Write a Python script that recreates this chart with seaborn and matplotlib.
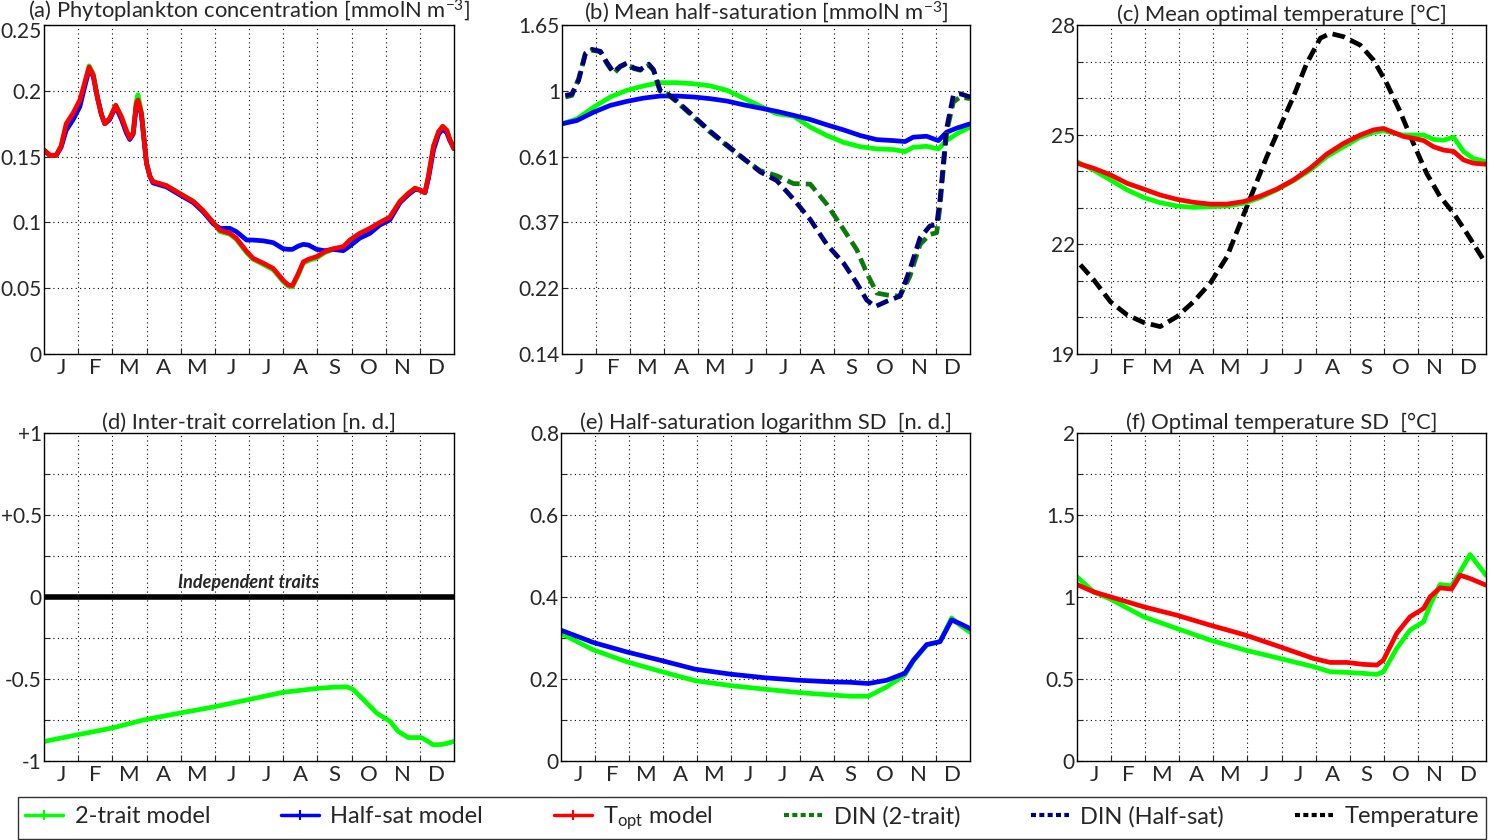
import numpy as np
import pandas as pd
import seaborn as sns
import matplotlib
matplotlib.use("Agg")
import matplotlib.pyplot as plt
from matplotlib.lines import Line2D
from matplotlib.transforms import ScaledTranslation

# ---------------- data (x in months since Jan 1) ----------------
months = ["J", "F", "M", "A", "M", "J", "J", "A", "S", "O", "N", "D"]

# (a) phytoplankton concentration
a_x = [0, 0.17, 0.36, 0.5, 0.65, 0.85, 1.05, 1.19, 1.32, 1.44, 1.57, 1.68, 1.78, 1.92, 2.1, 2.27,
       2.41, 2.51, 2.61, 2.7, 2.75, 2.85, 2.92, 3.0, 3.1, 3.19, 3.58, 3.97, 4.37, 4.66, 4.95, 5.15,
       5.44, 5.63, 5.93, 6.12, 6.42, 6.71, 7.0, 7.15, 7.27, 7.44, 7.59, 7.74, 7.98, 8.22, 8.46, 8.76,
       8.95, 9.24, 9.54, 9.83, 10.12, 10.42, 10.66, 10.86, 11.0, 11.15, 11.25, 11.4, 11.55, 11.67,
       11.79, 11.88, 12.0]
a_red = [0.155, 0.151, 0.151, 0.158, 0.175, 0.183, 0.193, 0.206, 0.218, 0.212, 0.194, 0.182, 0.175,
         0.179, 0.189, 0.180, 0.170, 0.164, 0.168, 0.190, 0.193, 0.183, 0.165, 0.145, 0.135, 0.131,
         0.128, 0.122, 0.116, 0.109, 0.100, 0.094, 0.0917, 0.088, 0.078, 0.0727, 0.069, 0.065, 0.056,
         0.0524, 0.052, 0.061, 0.070, 0.072, 0.074, 0.0778, 0.080, 0.0816, 0.0866, 0.0917, 0.0955,
         0.100, 0.104, 0.116, 0.122, 0.126, 0.1246, 0.1226, 0.135, 0.158, 0.169, 0.173, 0.170, 0.163,
         0.156]
a_blue = [0.155, 0.151, 0.151, 0.157, 0.170, 0.178, 0.188, 0.203, 0.216, 0.211, 0.194, 0.182, 0.175,
          0.178, 0.188, 0.178, 0.168, 0.163, 0.167, 0.188, 0.191, 0.182, 0.165, 0.145, 0.135, 0.130,
          0.127, 0.121, 0.115, 0.108, 0.099, 0.0955, 0.0955, 0.093, 0.0866, 0.0866, 0.086, 0.0846,
          0.080, 0.0795, 0.0795, 0.082, 0.0833, 0.0828, 0.0795, 0.0785, 0.0795, 0.0785, 0.082, 0.088,
          0.0917, 0.098, 0.1018, 0.115, 0.121, 0.125, 0.1246, 0.1226, 0.133, 0.155, 0.167, 0.171,
          0.168, 0.162, 0.156]
a_green = [0.155, 0.151, 0.151, 0.158, 0.173, 0.181, 0.191, 0.205, 0.219, 0.213, 0.195, 0.182, 0.175,
           0.179, 0.189, 0.180, 0.170, 0.164, 0.168, 0.192, 0.197, 0.184, 0.165, 0.145, 0.135, 0.131,
           0.128, 0.122, 0.116, 0.108, 0.100, 0.093, 0.091, 0.087, 0.077, 0.072, 0.068, 0.064, 0.055,
           0.0515, 0.051, 0.060, 0.069, 0.071, 0.073, 0.077, 0.0795, 0.081, 0.085, 0.091, 0.095,
           0.0995, 0.1035, 0.116, 0.122, 0.126, 0.1246, 0.1226, 0.135, 0.158, 0.169, 0.173, 0.170,
           0.163, 0.156]

# (b) mean half-saturation (log axis)
b_x = [0, 0.44, 0.93, 1.42, 1.91, 2.40, 2.89, 3.38, 3.87, 4.36, 4.85, 5.34, 5.83, 6.32, 6.81, 7.30,
       7.79, 8.28, 8.77, 9.26, 9.75, 10.09, 10.33, 10.72, 11.07, 11.31, 11.61, 12.0]
b_green = [0.778, 0.808, 0.883, 0.954, 1.004, 1.038, 1.064, 1.064, 1.055, 1.038, 1.004, 0.946, 0.890,
           0.840, 0.825, 0.759, 0.712, 0.676, 0.654, 0.643, 0.640, 0.630, 0.651, 0.656, 0.643, 0.685,
           0.721, 0.759]
b_blue = [0.778, 0.798, 0.850, 0.895, 0.923, 0.946, 0.961, 0.961, 0.954, 0.942, 0.925, 0.899, 0.877,
          0.855, 0.830, 0.804, 0.772, 0.743, 0.712, 0.690, 0.685, 0.680, 0.703, 0.708, 0.685, 0.730,
          0.753, 0.778]
din_x_2t = [0.1, 0.29, 0.49, 0.69, 0.88, 1.13, 1.32, 1.52, 1.71, 1.91, 2.11, 2.30, 2.55, 2.69, 2.89,
            3.09, 3.38, 3.87, 4.36, 4.85, 5.34, 5.83, 6.32, 6.81, 7.30, 7.79, 8.28, 8.67, 8.96, 9.26,
            9.55, 9.94, 10.23, 10.53, 10.82, 11.02, 11.12, 11.31, 11.51, 11.71, 12.0]
din_2t = [0.954, 0.965, 1.097, 1.329, 1.362, 1.345, 1.230, 1.140, 1.199, 1.230, 1.184, 1.169, 1.215,
          1.169, 0.991, 0.978, 0.918, 0.819, 0.730, 0.659, 0.596, 0.545, 0.524, 0.494, 0.492, 0.422,
          0.349, 0.299, 0.251, 0.215, 0.212, 0.210, 0.244, 0.311, 0.336, 0.340, 0.417, 0.730, 0.918,
          0.954, 0.942]
din_x_hs = [0.1, 0.29, 0.49, 0.69, 0.88, 1.13, 1.32, 1.52, 1.71, 1.91, 2.11, 2.30, 2.55, 2.69, 2.89,
            3.09, 3.38, 3.87, 4.36, 4.85, 5.34, 5.83, 6.32, 6.81, 7.30, 7.79, 8.28, 8.67, 8.96, 9.21,
            9.55, 9.94, 10.23, 10.53, 10.82, 11.02, 11.12, 11.31, 11.51, 11.71, 12.0]
din_hs = [0.965, 0.975, 1.083, 1.329, 1.370, 1.350, 1.240, 1.150, 1.205, 1.235, 1.190, 1.175, 1.225,
          1.175, 1.000, 0.980, 0.925, 0.825, 0.735, 0.662, 0.598, 0.540, 0.505, 0.439, 0.376, 0.311,
          0.270, 0.232, 0.204, 0.194, 0.202, 0.210, 0.257, 0.327, 0.358, 0.362, 0.439, 0.749, 0.966,
          0.978, 0.954]

# (c) mean optimal temperature
c_x = [0, 0.49, 0.98, 1.47, 1.96, 2.44, 2.93, 3.42, 3.91, 4.40, 4.89, 5.38, 5.86, 6.35, 6.84, 7.33,
       7.82, 8.31, 8.70, 8.99, 9.29, 9.58, 9.87, 10.17, 10.46, 10.75, 11.05, 11.34, 11.63, 12.0]
c_red = [24.22, 24.08, 23.90, 23.67, 23.51, 23.35, 23.23, 23.15, 23.10, 23.10, 23.17, 23.32, 23.51,
         23.76, 24.08, 24.47, 24.76, 24.99, 25.13, 25.17, 25.06, 24.95, 24.90, 24.84, 24.67, 24.58,
         24.54, 24.31, 24.22, 24.19]
c_green = [24.26, 24.03, 23.76, 23.49, 23.28, 23.14, 23.05, 23.01, 23.03, 23.05, 23.12, 23.28, 23.49,
           23.74, 24.03, 24.40, 24.67, 24.93, 25.06, 25.11, 25.04, 24.99, 24.99, 24.99, 24.87, 24.85,
           24.93, 24.54, 24.35, 24.26]
temp_x = [0.1, 0.49, 0.98, 1.47, 1.96, 2.44, 2.93, 3.42, 3.91, 4.40, 4.79, 5.18, 5.57, 5.96, 6.35,
          6.74, 7.14, 7.43, 7.82, 8.31, 8.70, 9.09, 9.48, 9.87, 10.26, 10.65, 11.05, 11.44, 11.93]
temp = [21.44, 21.03, 20.43, 20.07, 19.86, 19.75, 20.02, 20.43, 20.94, 21.66, 22.58, 23.49, 24.40,
        25.22, 26.04, 26.95, 27.64, 27.77, 27.68, 27.45, 27.04, 26.40, 25.63, 24.76, 23.94, 23.31,
        22.85, 22.30, 21.57]

# (d) inter-trait correlation
d_x = [0, 0.98, 1.97, 2.95, 3.97, 4.95, 5.98, 7.0, 7.98, 8.47, 8.86, 9.05, 9.35, 9.74, 10.13, 10.37,
       10.66, 11.05, 11.40, 11.69, 12.0]
d_green = [-0.881, -0.840, -0.800, -0.748, -0.708, -0.671, -0.626, -0.581, -0.558, -0.550, -0.548,
           -0.564, -0.626, -0.708, -0.759, -0.820, -0.857, -0.857, -0.902, -0.898, -0.881]

# (e) half-saturation logarithm SD
e_x = [0, 0.95, 1.93, 2.95, 3.93, 4.96, 5.99, 6.96, 7.94, 8.48, 9.02, 9.56, 10.09, 10.34, 10.73,
       11.12, 11.46, 11.71, 12.0]
e_blue = [0.319, 0.289, 0.266, 0.245, 0.224, 0.212, 0.203, 0.197, 0.193, 0.192, 0.189, 0.197, 0.214,
          0.246, 0.284, 0.291, 0.344, 0.335, 0.323]
e_green = [0.311, 0.271, 0.242, 0.218, 0.196, 0.184, 0.175, 0.167, 0.161, 0.158, 0.158, 0.181, 0.210,
           0.244, 0.283, 0.291, 0.349, 0.331, 0.314]

# (f) optimal temperature SD
f_x = [0, 0.49, 0.98, 1.96, 2.93, 3.91, 4.94, 5.96, 6.94, 7.43, 7.92, 8.41, 8.80, 8.99, 9.38, 9.77,
       10.17, 10.36, 10.65, 10.99, 11.24, 11.53, 12.0]
f_red = [1.076, 1.031, 1.001, 0.940, 0.889, 0.828, 0.768, 0.696, 0.625, 0.601, 0.601, 0.589, 0.585,
         0.615, 0.778, 0.879, 0.930, 1.001, 1.056, 1.048, 1.133, 1.113, 1.072]
f_green = [1.123, 1.031, 0.987, 0.879, 0.808, 0.737, 0.676, 0.625, 0.575, 0.544, 0.540, 0.534, 0.528,
           0.544, 0.686, 0.798, 0.849, 0.950, 1.076, 1.068, 1.153, 1.259, 1.133]

# ---------------- style ----------------
GREEN = "#00ff00"
BLUE = "#0000ff"
RED = "#ff0000"
DGREEN = "#0b7a0b"
NAVY = "#00007a"

sns.set_style("ticks")
plt.rcParams["font.family"] = ["Lato", "DejaVu Sans"]
plt.rcParams["mathtext.fontset"] = "custom"
plt.rcParams["mathtext.rm"] = "Lato"
plt.rcParams["mathtext.it"] = "Lato:italic"
plt.rcParams["axes.linewidth"] = 1.0
plt.rcParams["axes.edgecolor"] = "black"

TICK_FS = 15
TITLE_FS = 15.8

fig = plt.figure(figsize=(14.93, 8.4), dpi=100)
W, H = 1493.0, 840.0


def make_ax(left, right, top, bottom):
    return fig.add_axes([left / W, 1 - bottom / H, (right - left) / W, (bottom - top) / H])


ax_a = make_ax(44, 454, 25, 354)
ax_b = make_ax(562, 970, 25, 354)
ax_c = make_ax(1077, 1486, 25, 354)
ax_d = make_ax(44, 454, 433, 761)
ax_e = make_ax(561, 970, 433, 761)
ax_f = make_ax(1077, 1486, 433, 761)

LW = 3.4


def line(ax, x, y, color, dashed=False):
    kw = dict(x=x, y=y, ax=ax, color=color, linewidth=LW, legend=False, sort=False)
    g = sns.lineplot(**kw)
    if dashed:
        g.lines[-1].set_linestyle((0, (2.7, 1.3)))


def style_axes(ax, yticks, ylabels, ylim, title, title_pad=2.5):
    ax.set_xlim(0, 12)
    ax.set_ylim(*ylim)
    ax.set_xticks(np.arange(1, 12))
    ax.set_xticklabels([])
    ax.set_xticks(np.arange(0.5, 12, 1), minor=True)
    ax.set_xticklabels(months, minor=True, fontsize=TICK_FS + 1)
    ax.tick_params(axis="x", which="minor", length=0, pad=3)
    ax.tick_params(axis="x", which="major", direction="in", length=4)
    ax.set_yticks(yticks)
    ax.set_yticklabels(ylabels, fontsize=TICK_FS)
    ax.tick_params(axis="y", which="both", direction="in", length=4, pad=1.5)
    ax.tick_params(axis="y", which="minor", left=False)
    ax.grid(True, which="major", color="black", linestyle=(0, (1, 3)), linewidth=0.8)
    ax.set_title(title, fontsize=TITLE_FS, pad=title_pad)
    ax.set_xlabel("")
    ax.set_ylabel("")
    for s in ax.spines.values():
        s.set_visible(True)
        s.set_linewidth(1.0)


# (a)
line(ax_a, a_x, a_green, GREEN)
line(ax_a, a_x, a_blue, BLUE)
line(ax_a, a_x, a_red, RED)
style_axes(ax_a, [0, 0.05, 0.1, 0.15, 0.2, 0.25], ["0", "0.05", "0.1", "0.15", "0.2", "0.25"],
           (0, 0.25), "(a) Phytoplankton concentration [mmolN m$^{-3}$]", title_pad=3.5)
# the top label sits a little below its tick in the reference
top_lbl = ax_a.get_yticklabels()[-1]
top_lbl.set_transform(top_lbl.get_transform() + ScaledTranslation(0, -5 / 100, fig.dpi_scale_trans))

# (b)
ax_b.set_yscale("log")
line(ax_b, b_x, b_green, GREEN)
line(ax_b, b_x, b_blue, BLUE)
line(ax_b, din_x_2t, din_2t, DGREEN, dashed=True)
line(ax_b, din_x_hs, din_hs, NAVY, dashed=True)
b_ticks = [np.exp(k) for k in (-2, -1.5, -1, -0.5, 0, 0.5)]
style_axes(ax_b, b_ticks, ["0.14", "0.22", "0.37", "0.61", "1", "1.65"],
           (np.exp(-2), np.exp(0.5)), "(b) Mean half-saturation [mmolN m$^{-3}$]")
ax_b.yaxis.set_minor_locator(matplotlib.ticker.NullLocator())

# (c)
line(ax_c, temp_x, temp, "black", dashed=True)
line(ax_c, c_x, c_green, GREEN)
line(ax_c, c_x, c_red, RED)
style_axes(ax_c, list(range(19, 29)), ["19", "", "", "22", "", "", "25", "", "", "28"],
           (19, 28), "(c) Mean optimal temperature [°C]")

# (d)
ax_d.axhline(0, color="black", linewidth=4)
line(ax_d, d_x, d_green, GREEN)
style_axes(ax_d, [-1, -0.75, -0.5, -0.25, 0, 0.25, 0.5, 0.75, 1],
           ["-1", "", "-0.5", "", "0", "", "+0.5", "", "+1"], (-1, 1),
           "(d) Inter-trait correlation [n. d.]")
ax_d.text(6.0, 0.035, "Independent traits", ha="center", va="bottom", fontsize=13,
          fontweight="bold", fontstyle="italic")

# (e)
line(ax_e, e_x, e_green, GREEN)
line(ax_e, e_x, e_blue, BLUE)
style_axes(ax_e, [0, 0.1, 0.2, 0.3, 0.4, 0.5, 0.6, 0.7, 0.8],
           ["0", "", "0.2", "", "0.4", "", "0.6", "", "0.8"], (0, 0.8),
           "(e) Half-saturation logarithm SD  [n. d.]")

# (f)
line(ax_f, f_x, f_green, GREEN)
line(ax_f, f_x, f_red, RED)
style_axes(ax_f, [0, 0.25, 0.5, 0.75, 1, 1.25, 1.5, 1.75, 2],
           ["0", "", "0.5", "", "1", "", "1.5", "", "2"], (0, 2),
           "(f) Optimal temperature SD  [°C]")

# legend
handles = [
    Line2D([], [], color=GREEN, lw=2.5, marker="+", markersize=7, markeredgewidth=1.5),
    Line2D([], [], color=BLUE, lw=2.5, marker="+", markersize=7, markeredgewidth=1.5),
    Line2D([], [], color=RED, lw=2.5, marker="+", markersize=7, markeredgewidth=1.5),
    Line2D([], [], color=DGREEN, lw=3, linestyle=(0, (1.2, 0.8))),
    Line2D([], [], color=NAVY, lw=3, linestyle=(0, (1.2, 0.8))),
    Line2D([], [], color="black", lw=3, linestyle=(0, (1.2, 0.8))),
]
labels = ["2-trait model", "Half-sat model", "T$_{\\rm opt}$ model", "DIN (2-trait)",
          "DIN (Half-sat)", "Temperature"]
leg = fig.legend(handles, labels, loc="lower left", ncol=6, mode="expand",
                 bbox_to_anchor=(18 / W, 1 / H, (1486 - 18) / W, 41 / H),
                 frameon=True, fancybox=False, edgecolor="black", fontsize=17,
                 handlelength=1.6, handletextpad=0.5, borderaxespad=0, borderpad=0.3)
leg.get_frame().set_linewidth(1.0)

fig.savefig("out.png", dpi=100)
